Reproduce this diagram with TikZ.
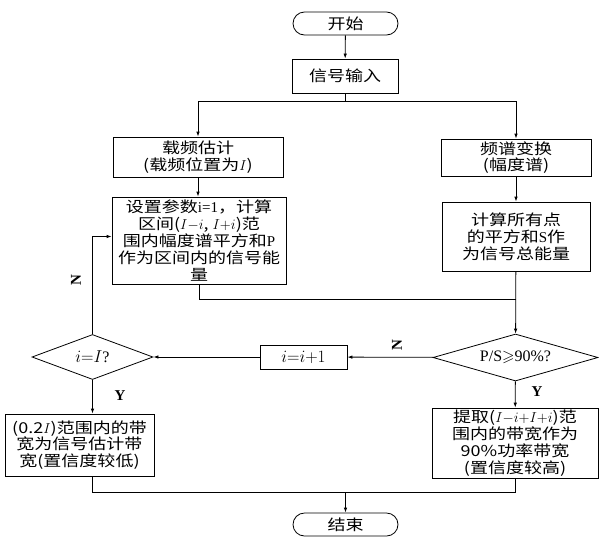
\documentclass[tikz,border=0pt]{standalone}
\usepackage{fontspec}
\usepackage{amsmath,amssymb}
\setmainfont{Liberation Serif}
\newfontfamily\cjk{Noto Sans CJK SC}[FakeStretch=1.2]
\usetikzlibrary{arrows.meta,shapes.geometric}

\begin{document}
\begin{tikzpicture}[x=1pt,y=-1pt,line width=0.8pt,
  box/.style={draw,inner sep=0pt,align=center,font=\cjk\fontsize{15}{16.8}\selectfont},
  decision/.style={draw,diamond,inner sep=0pt,aspect=3.5,font=\fontsize{16}{16}\selectfont},
  terminal/.style={box,rounded corners=11.5pt,minimum width=105pt,minimum height=23pt},
  flow/.style={-{Latex[length=5pt,width=3.5pt]}},
  tag/.style={font=\bfseries\fontsize{15}{15}\selectfont}]
\useasboundingbox (0,0) rectangle (599,536);
\node[terminal] (start) at (345.5,23.5) {开始};
\node[box,minimum width=106pt,minimum height=34pt] (input) at (345,76) {信号输入};
\node[box,minimum width=170pt,minimum height=40pt] (carrier) at (198,157) {载频估计\\(载频位置为$I$)};
\node[box,minimum width=150pt,minimum height=37pt] (spectrum) at (516,157.5) {频谱变换\\(幅度谱)};
\node[box,minimum width=174pt,minimum height=87pt] (param) at (199,240.5) {设置参数\textrm{i=1}，计算\\区间($I{-}i$, $I{+}i$)范\\围内幅度谱平方和\textrm{P}\\作为区间内的信号能\\量};
\node[box,minimum width=148pt,minimum height=69pt] (total) at (516,236.5) {计算所有点\\的平方和\textrm{S}作\\为信号总能量};
\node[decision,minimum width=165pt,minimum height=47pt] (ratio) at (515.5,357.5) {P/S$\geqslant$90\%?};
\node[box,minimum width=87pt,minimum height=24pt,font=\fontsize{16}{16}\selectfont] (incr) at (303.5,357) {$i{=}i{+}1$};
\node[decision,minimum width=121pt,minimum height=45pt] (check) at (92.5,357) {$i{=}I$?};
\node[box,minimum width=149pt,minimum height=62pt] (low) at (79.5,445) {(0.2$I$)范围内的带\\宽为信号估计带\\宽(置信度较低)};
\node[box,minimum width=166pt,minimum height=70pt] (high) at (515,443) {提取($I{-}i{+}I{+}i$)范\\围内的带宽作为\\90\%功率带宽\\(置信度较高)};
\node[terminal] (stop) at (345.5,524.5) {结束};
% labels on the branches
\node[tag,rotate=90] (no1) at (397,345) {N};
\node[tag,rotate=90] (no2) at (76,280) {N};
\node[tag] (yes1) at (120,396) {Y};
\node[tag] (yes2) at (537,392) {Y};
% connectors
\draw[flow] (start) -- (input);
\draw (input.south) -- ++(0,8) coordinate (split);
\draw[flow] (split) -| (carrier.north);
\draw[flow] (split) -| (spectrum.north);
\draw[flow] (carrier.south) -- (carrier.south |- param.north);
\draw[flow] (spectrum) -- (total);
\coordinate (join) at (515.5,299);
\draw (param.south) |- (join);
\draw[flow] (total) -- (ratio);
\draw[flow] (ratio) -- (incr);
\draw[flow] (incr) -- (check);
\draw[flow] (check.north) |- ([yshift=4pt]param.west);
\draw[flow] (check.south) -- (check.south |- low.north);
\draw[flow] (ratio) -- (high);
\coordinate (merge) at (345.5,492);
\draw (check.south |- low.south) |- (merge) -| (high.south);
\draw[flow] (merge) -- (stop);
\end{tikzpicture}
\end{document}
